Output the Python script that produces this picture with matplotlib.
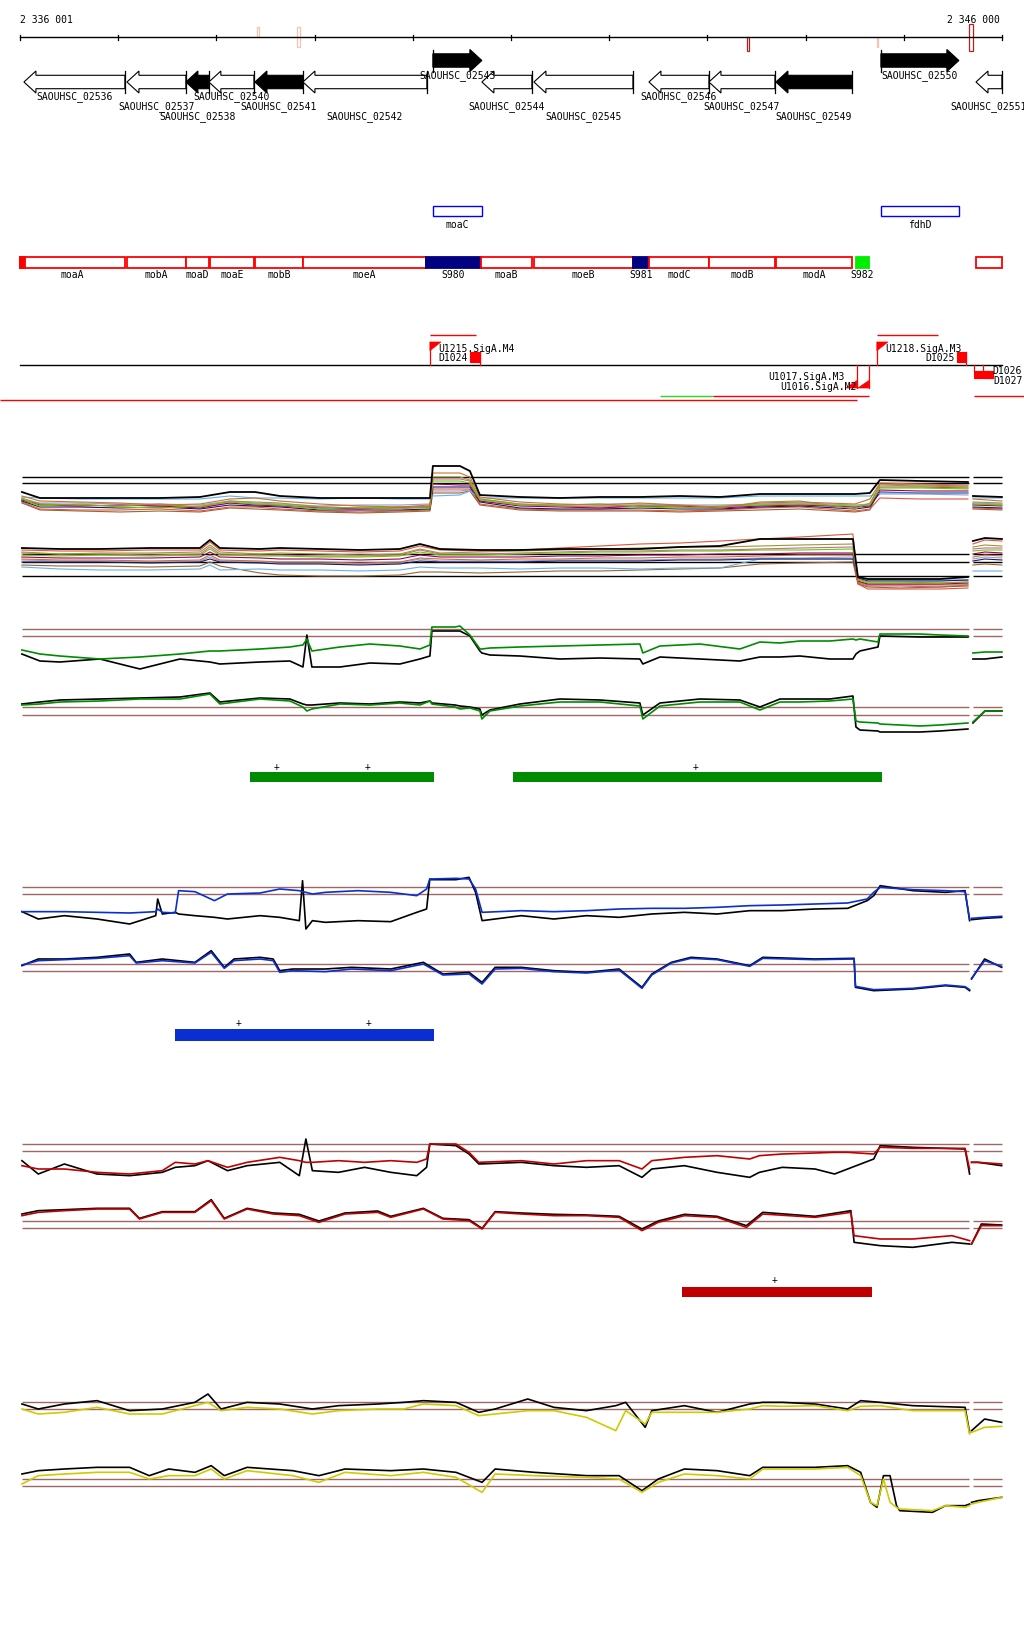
import numpy as np
import matplotlib
matplotlib.use("Agg")
import matplotlib.pyplot as plt
from matplotlib.patches import Polygon, Rectangle

nan = np.nan
G0 = 2336000            # genome offset (bp)
BPX = 9999 / 982        # bp per pixel of the view
XMIN, XMAX = 2335797.4, 2346224.0

# ---------------- ruler ----------------
ruler_ticks = [1, 1001, 2001, 3001, 4001, 5001, 6001, 7001, 8001, 9001, 10000]
ruler_left_label = "2 336 001"
ruler_right_label = "2 346 000"
mark_start = [2410, 2820, 7399, 8723, 9663]
mark_end = [2430, 2851, 7420, 8737, 9704]
mark_color = ['#f2c4b6', '#f2c4b6', '#b22222', '#f2c4b6', '#b22222']
mark_rows = [(28, 38), (28, 48), (38, 52), (38, 48), (25, 52)]

# ---------------- genes ----------------
gene_names = ['SAOUHSC_02536', 'SAOUHSC_02537', 'SAOUHSC_02538', 'SAOUHSC_02540',
              'SAOUHSC_02541', 'SAOUHSC_02542', 'SAOUHSC_02543', 'SAOUHSC_02544',
              'SAOUHSC_02545', 'SAOUHSC_02546', 'SAOUHSC_02547', 'SAOUHSC_02549',
              'SAOUHSC_02550', 'SAOUHSC_02551']
gene_start = [41, 1090, 1690, 1924, 2393, 2882, 4205, 4704, 5234, 6405, 7016, 7698, 8767, 9735]
gene_end = [1069, 1690, 1924, 2383, 2882, 4144, 4704, 5213, 6242, 7016, 7688, 8472, 9561, 9999]
gene_strand = ['-', '-', '-', '-', '-', '-', '+', '-', '-', '-', '-', '-', '+', '-']
gene_filled = [0, 0, 1, 0, 1, 0, 1, 0, 0, 0, 0, 1, 1, 0]
gene_label_row = [1, 2, 3, 1, 2, 3, 0, 2, 3, 1, 2, 3, 0, 2]

# ---------------- blue annotation boxes ----------------
box_names = ['moaC', 'fdhD']
box_start = [4205, 8767]
box_end = [4704, 9561]

# ---------------- operon / sRNA boxes ----------------
op_names = ['moaA', 'mobA', 'moaD', 'moaE', 'mobB', 'moeA', 'S980', 'moaB', 'moeB',
            'S981', 'modC', 'modB', 'modA', 'S982', '']
op_start = [0, 1090, 1690, 1935, 2393, 2882, 4134, 4694, 5234, 6242, 6405, 7016, 7698, 8513, 9735]
op_end = [1074, 1690, 1924, 2383, 2882, 4134, 4694, 5213, 6242, 6405, 7016, 7688, 8472, 8645, 9999]
op_kind = ['op', 'op', 'op', 'op', 'op', 'op', 'srna', 'op', 'op', 'srna', 'op', 'op', 'op', 'new', 'op']
op_fill_start, op_fill_end = [0], [50]

# ---------------- promoters / terminators / transcripts ----------------
prom_names = ['U1215.SigA.M4', 'U1218.SigA.M3', 'U1017.SigA.M3', 'U1016.SigA.M2']
prom_pos = [4175, 8726, 8523, 8645]
prom_strand = ['+', '+', '-', '-']
prom_label_dy = [0, 0, -5.5, 4.5]
term_names = ['D1024', 'D1025', 'D1026', 'D1027']
term_start = [4582, 9541, 9714, 9806]
term_end = [4684, 9632, 9900, 9908]
term_strand = ['+', '+', '-', '-']
term_label_dy = [0, 0, -4.5, 5]
tr_start = [4175, 8726, -204, 6517, 7056, 9714]
tr_end = [4643, 9347, 8523, 7056, 8645, 10224]
tr_row = [336, 336, 401, 397, 397, 397]
tr_color = ['#ff0000', '#ff0000', '#ff0000', '#22dd22', '#ff0000', '#ff0000']

# ---------------- track 1 : many conditions ----------------
t1_top_x = [20, 204, 611, 1018, 1425, 1833, 2138, 2393, 2647, 3055, 3462, 3869, 4175, 4205, 4480,
            4582, 4684, 5091, 5498, 5906, 6313, 6720, 7128, 7535, 7942, 8502, 8655, 8757, 9164,
            9653, 9673, 9704, 9999]
t1_top_colors = ['#000000', '#c87137', '#999933', '#66cc00', '#990066', '#66b2e6', '#1a1a66',
                 '#e0553a', '#9999cc', '#996633', '#cc6699']
t1_top = [
    [493,499,499,499,499,498,493,493,497,499, 499,499,499,467,467,472,496,498,499,498, 498,497,498,495,495,495,494,481,482,483, nan,497,498],
    [497,502,503,504,506,505,500,499,502,505, 507,508,506,474,474,478,498,503,505,506, 504,506,508,504,503,505,500,484,485,486, nan,500,502],
    [499,505,506,507,505,508,502,503,504,508, 509,510,507,478,478,481,500,505,507,507, 506,508,509,503,502,510,504,486,487,488, nan,503,504],
    [500,507,505,508,509,507,503,505,506,510, 508,509,509,482,482,484,501,506,506,505, 508,509,507,506,505,507,506,489,489,490, nan,505,506],
    [501,506,507,506,507,509,504,506,507,509, 510,508,508,485,486,486,502,507,508,509, 507,507,509,507,506,508,507,491,492,492, nan,506,507],
    [498,499,500,500,500,500,497,499,499,500, 499,500,500,497,496,492,499,499,499,499, 499,499,499,497,497,497,497,494,494,494, nan,499,499],
    [502,508,508,509,508,510,506,507,508,511, 511,511,510,488,488,488,503,509,510,510, 509,510,510,508,507,510,508,493,494,494, nan,508,509],
    [503,510,511,511,510,512,508,508,510,512, 513,512,511,490,490,490,505,510,511,511, 511,512,511,509,508,512,510,499,500,500, nan,509,510],
    [500,504,504,505,505,506,502,504,505,507, 506,506,505,492,492,491,500,505,506,505, 505,506,506,505,504,506,505,495,495,496, nan,504,505],
    [504,511,512,513,512,513,509,510,511,513, 514,513,512,494,494,492,506,511,512,512, 512,513,512,511,510,513,511,488,488,489, nan,510,511],
    [501,505,506,507,506,508,504,505,506,508, 509,509,508,480,480,482,502,506,507,508, 507,508,508,506,505,508,506,485,486,487, nan,505,506],
]
t1_bot_x = [20, 407, 815, 1324, 1833, 1935, 2036, 2444, 2647, 3055, 3462, 3869, 4073, 4277, 4684,
            5091, 5498, 5906, 6313, 6720, 7128, 7535, 7942, 8482, 8533, 8634, 8960, 9368, 9653,
            9673, 9704, 9826, 9999]
t1_bot_colors = ['#000000', '#e0553a', '#999933', '#66cc00', '#990066', '#c87137', '#1a1a66',
                 '#66b2e6', '#996633', '#cc6699', '#9999cc']
t1_bot = [
    [549,550,550,549,549,541,549,550,549,550, 551,550,545,550,551,551,550,550,550,548, 547,540,540,540,578,580,580,580,578,nan, 542,539,540],
    [551,552,552,551,551,543,551,552,551,552, 553,552,547,551,552,551,549,547,545,544, 542,540,538,535,585,590,590,590,589,nan, 545,541,542],
    [553,555,554,554,553,546,553,555,554,555, 556,555,550,554,553,552,551,550,549,548, 548,547,546,545,580,583,583,584,583,nan, 548,546,547],
    [556,557,556,557,556,550,556,557,557,558, 558,557,553,556,556,555,554,553,553,552, 552,551,551,550,581,584,584,584,583,nan, 552,551,551],
    [558,559,559,559,558,553,558,559,560,560, 561,560,556,558,558,558,557,557,556,556, 555,555,554,554,582,585,585,585,584,nan, 555,553,554],
    [560,561,561,562,561,556,561,562,563,563, 564,563,559,560,561,560,560,559,559,558, 558,557,556,556,583,586,586,586,586,nan, 558,556,557],
    [563,563,563,564,563,560,563,564,565,565, 566,565,562,563,563,563,562,562,562,561, 561,560,560,560,579,582,582,582,581,nan, 562,560,561],
    [568,570,571,571,570,566,571,570,571,571, 572,571,568,569,569,570,569,569,570,569, 569,560,560,560,580,581,581,581,581,nan, 572,572,572],
    [566,567,567,568,567,563,567,574,576,577, 577,576,573,573,574,573,572,572,571,570, 569,565,564,563,585,588,589,588,587,nan, 566,565,566],
    [554,555,555,556,555,548,555,556,556,557, 557,556,551,555,555,554,553,552,552,551, 551,550,549,548,584,587,587,588,586,nan, 550,549,549],
    [561,562,562,563,562,558,562,563,564,564, 565,564,560,562,562,562,561,561,561,560, 560,559,559,558,583,585,585,585,585,nan, 560,558,559],
]
t1_top_refs = [478, 484]
t1_bot_refs = [555, 563, 577]

# ---------------- track 2 : green condition ----------------
g_x = [20, 204, 407, 815, 1222, 1629, 1935, 2036, 2444, 2749, 2882, 2922, 2973, 3258, 3564, 3869,
       4073, 4175, 4195, 4430, 4480, 4582, 4684, 4704, 4786, 5091, 5498, 5906, 6313, 6343, 6517,
       6924, 7331, 7535, 7739, 7942, 8248, 8482, 8513, 8553, 8737, 8757, 9164, 9368, 9653, 9673,
       9704, 9826, 9999]
g_top_col = [651,655,657,660,658,655,652,652,650,648, 646,640,652,648,645,647,650,646,628,628,
             627,636,650,650,649,648,647,646,645,654, 647,645,650,643,644,642,642,640,641,640,
             643,635,635,636,637,nan,654,653,653]
g_top_blk = [655,662,663,660,670,660,663,665,663,662, 668,636,668,668,664,665,660,657,632,632,
             632,637,652,654,656,657,660,659,660,665, 658,660,662,658,658,657,660,660,655,652,
             648,637,638,638,638,nan,660,660,658]
g_bot_col = [706,705,703,702,700,700,695,705,700,702, 708,712,710,705,706,704,706,702,705,708,
             710,709,712,720,712,707,703,703,707,720, 707,703,703,711,703,703,702,700,722,723,
             724,725,727,726,724,nan,723,712,712]
g_bot_blk = [705,703,701,700,699,698,694,703,699,700, 705,706,706,704,705,703,704,702,704,706,
             707,708,710,716,711,705,700,701,704,716, 704,700,701,708,700,700,700,697,728,731,
             732,733,733,732,730,nan,724,712,712]
g_refs = [630, 637, 708, 716]
g_bar_start, g_bar_end = [2342, 5020], [4216, 8777]
g_plus = [2617, 3543, 6883]

# ---------------- track 3 : blue condition ----------------
b_top_x = [21, 187, 453, 785, 1117, 1383, 1403, 1450, 1582, 1616, 1782, 1981, 2114, 2446, 2646,
           2845, 2878, 2912, 2978, 3111, 3443, 3776, 4041, 4141, 4174, 4188, 4440, 4573, 4640,
           4706, 5105, 5437, 5769, 6101, 6434, 6766, 7099, 7431, 7763, 8096, 8428, 8627, 8694,
           8760, 9092, 9424, 9624, 9670, 9680, 9690, 9823, 9996]
b_top_col = [158,158,158,160,162,158,150,160,162,95, 98,125,105,102,90,95,98,100,105,100,
             95,100,110,90,60,60,58,60,90,160, 155,158,155,150,148,148,145,140,138,135,
             132,120,100,85,92,95,98,180,nan,178, 175,172]
b_top_blk = [158,180,170,180,195,170,120,165,160,165, 170,175,180,170,175,185,65,210,185,190,
             185,188,160,150,60,62,62,55,100,185, 170,180,170,175,165,160,165,155,155,150,
             148,125,110,80,95,100,95,185,nan,182, 178,175]
b_bot_x = [21, 187, 453, 785, 1117, 1184, 1450, 1782, 1948, 2081, 2181, 2446, 2579, 2646, 2779,
           3111, 3377, 3776, 4108, 4307, 4573, 4706, 4839, 5105, 5437, 5769, 6101, 6334, 6434,
           6633, 6833, 7099, 7431, 7564, 8096, 8494, 8508, 8694, 9092, 9424, 9624, 9670, 9680,
           9690, 9823, 9996]
b_bot_blk = [320,300,300,295,285,310,300,310,275,325, 300,295,300,335,330,330,325,330,310,345,
             340,370,325,325,335,340,330,385,345,310, 295,300,320,295,300,298,385,395,390,380,
             385,395,nan,360,300,325]
b_bot_col = [318,305,302,298,290,312,305,312,280,328, 305,300,305,340,335,338,330,335,315,348,
             345,375,330,328,338,342,333,388,348,312, 298,302,322,298,302,300,382,392,388,378,
             383,392,nan,358,305,322]
b_refs = [85, 105, 316, 337]
b_bar_start, b_bar_end = [1578], [4216]
b_plus = [2227, 3550]

# ---------------- track 4 : red condition ----------------
r_top_x = [21, 187, 453, 785, 1117, 1450, 1582, 1782, 1915, 2114, 2314, 2646, 2845, 2912, 2978,
           3244, 3510, 3776, 4041, 4141, 4174, 4440, 4573, 4673, 5105, 5437, 5769, 6101, 6334,
           6434, 6766, 7099, 7431, 7530, 7763, 8096, 8295, 8428, 8694, 8760, 9092, 9624, 9670,
           9680, 9690, 9757, 9996]
r_top_col = [110,120,120,130,135,125,100,105,95,115, 100,85,95,100,100,95,100,95,100,90,
             45,45,70,100,95,105,95,95,120,95, 85,80,90,80,75,72,70,70,75,55,
             58,58,120,nan,100,100,105]
r_top_blk = [95,135,105,135,140,130,115,110,95,125, 110,100,140,30,125,130,115,130,140,115,
             45,50,75,105,100,110,115,110,145,120, 110,130,145,130,115,120,135,120,90,50,
             55,60,135,nan,100,100,110]
r_bot_x = [21, 187, 453, 785, 1117, 1217, 1450, 1782, 1948, 2081, 2314, 2579, 2845, 3045, 3310,
           3643, 3776, 4108, 4307, 4573, 4706, 4839, 5105, 5437, 5769, 6101, 6334, 6500, 6766,
           7099, 7398, 7564, 8096, 8461, 8494, 8760, 9092, 9491, 9670, 9680, 9690, 9790, 9996]
r_bot_col = [260,250,245,240,240,270,250,250,215,270, 240,255,260,280,255,250,265,240,270,275,
             300,250,255,260,260,265,305,280,260,265, 295,255,265,250,320,330,330,320,335,nan,
             345,290,290]
r_bot_blk = [255,245,242,238,238,268,248,248,212,268, 238,252,256,276,252,246,262,238,268,272,
             298,248,252,256,258,262,300,276,256,262, 290,250,262,245,340,350,355,340,345,nan,
             345,285,288]
r_refs = [45, 67, 277, 297]
r_bar_start, r_bar_end = [6741], [8675]
r_plus = [7683]

# ---------------- track 5 : yellow condition ----------------
y_top_x = [21, 187, 453, 785, 1117, 1450, 1782, 1915, 2048, 2314, 2646, 2978, 3244, 3643, 3909,
           4108, 4440, 4673, 4839, 5171, 5437, 5769, 6068, 6168, 6367, 6434, 6766, 7099, 7431,
           7564, 7763, 8096, 8428, 8561, 8760, 9092, 9624, 9670, 9680, 9690, 9823, 9996]
y_top_col = [120,135,130,115,135,135,110,100,125,115, 120,135,125,120,120,105,110,140,135,125,
             125,145,185,125,165,130,130,130,120,110, 112,110,125,112,110,125,125,195,nan,190,
             175,172]
y_top_blk = [105,120,105,95,125,120,100,75,120,100, 105,120,110,105,100,95,100,130,120,90,
             115,125,110,100,175,125,110,130,105,100, 100,105,120,95,100,110,115,190,nan,185,
             150,160]
y_bot_x = [21, 187, 453, 785, 1117, 1317, 1516, 1782, 1948, 2081, 2314, 2779, 3045, 3310, 3776,
           4108, 4440, 4706, 4839, 5238, 5769, 6101, 6334, 6500, 6766, 7099, 7431, 7564, 8096,
           8428, 8561, 8661, 8727, 8793, 8860, 8926, 8959, 9292, 9424, 9624, 9670, 9680, 9690,
           9757, 9996]
y_bot_col = [345,320,315,310,310,330,320,320,300,330, 305,320,340,310,320,310,325,370,315,320,
             325,330,370,340,315,320,330,300,300,295, 320,400,410,330,400,415,420,425,410,415,
             410,nan,405,400,385]
y_bot_blk = [315,305,300,295,295,320,300,310,290,320, 295,305,320,300,305,300,310,340,300,310,
             320,320,365,330,300,305,320,295,295,290, 310,400,415,320,320,410,425,430,410,410,
             405,nan,400,395,385]
y_refs = [100, 121, 330, 352]

# ======================================================================
W, H = 1024, 1640
fig = plt.figure(figsize=(W / 100, H / 100), dpi=100)
fig.patch.set_facecolor('white')
MONO = 'DejaVu Sans Mono'
FS = 7
BROWN = '#a06666'


def add_axes(top, bottom, ylim):
    ax = fig.add_axes([0, 1 - bottom / H, 1, (bottom - top) / H])
    ax.set_xlim(XMIN, XMAX)
    ax.set_ylim(*ylim)
    ax.axis('off')
    return ax


def gx(a):
    return G0 + np.asarray(a, dtype=float)


def txt(ax, x, y, s, ha='center', **kw):
    ax.text(x, y, s, ha=ha, va='center', fontsize=FS, family=MONO, **kw)


def ref_line(ax, y, color, lw=1.0):
    for lo, hi in [(20, 9668), (9703, 9999)]:
        ax.plot(gx([lo, hi]), [y, y], color=color, lw=lw, solid_capstyle='butt')


# ---------------- annotation area ----------------
ax = add_axes(0, 420, (420, 0))

# ruler
ax.plot(gx([ruler_ticks[0], ruler_ticks[-1]]), [38, 38], color='black', lw=1.0)
for t in ruler_ticks:
    ax.plot(gx([t, t]), [35.5, 40.5], color='black', lw=0.9)
txt(ax, G0 + ruler_ticks[0], 20, ruler_left_label, ha='left')
txt(ax, G0 + 9980, 20, ruler_right_label, ha='right')
for s, e, c, (y0, y1) in zip(mark_start, mark_end, mark_color, mark_rows):
    ax.add_patch(Rectangle((G0 + s, y0), e - s, y1 - y0, facecolor='white', edgecolor=c, lw=0.9))

# genes
head = 12 * BPX
label_y = {0: 76, 1: 97, 2: 107, 3: 117}
for name, s, e, st, f, row in zip(gene_names, gene_start, gene_end, gene_strand, gene_filled, gene_label_row):
    s, e = G0 + s, G0 + e
    yc = 61.5 if st == '+' else 83
    bh, hh = 6.7, 11
    hl = min(head, e - s)
    if st == '+':
        hb = e - hl
        pts = [(s, yc - bh), (hb, yc - bh), (hb, yc - hh), (e, yc), (hb, yc + hh), (hb, yc + bh), (s, yc + bh)]
        bar = s
    else:
        hb = s + hl
        pts = [(e, yc - bh), (hb, yc - bh), (hb, yc - hh), (s, yc), (hb, yc + hh), (hb, yc + bh), (e, yc + bh)]
        bar = e
    ax.add_patch(Polygon(pts, closed=True, facecolor='black' if f else 'white', edgecolor='black', lw=0.8, zorder=3))
    ax.plot([bar, bar], [yc - hh, yc + hh], color='black', lw=0.9, zorder=3)
    txt(ax, (s + e) / 2, label_y[row], name, zorder=5)

# blue boxes
for n, s, e in zip(box_names, box_start, box_end):
    ax.add_patch(Rectangle((G0 + s, 207), e - s, 10, facecolor='white', edgecolor='#0000ff', lw=1.0))
    txt(ax, G0 + (s + e) / 2, 224.5, n)

# operon boxes
for n, s, e, k in zip(op_names, op_start, op_end, op_kind):
    if k == 'srna':
        fc, ec = '#000080', '#000080'
    elif k == 'new':
        fc, ec = '#00ee00', '#00ee00'
    else:
        fc, ec = 'white', '#ff0000'
    ax.add_patch(Rectangle((G0 + s, 258.3), e - s, 10.4, facecolor=fc, edgecolor=ec, lw=1.3))
    if n:
        txt(ax, G0 + (s + e) / 2, 275.5, n)
for s, e in zip(op_fill_start, op_fill_end):
    ax.add_patch(Rectangle((G0 + s, 258.3), e - s, 10.4, facecolor='#ff0000', edgecolor='#ff0000', lw=1.3))

# promoter / terminator track
ax.plot(gx([0, 9999]), [366, 366], color='black', lw=1.0)
for s, e, y, c in zip(tr_start, tr_end, tr_row, tr_color):
    ax.plot(gx([s, e]), [y, y], color=c, lw=1.0, solid_capstyle='butt')
tri = 11 * BPX
for n, p, st, dy in zip(prom_names, prom_pos, prom_strand, prom_label_dy):
    x = G0 + p
    if st == '+':
        ax.plot([x, x], [343, 366], color='#ff0000', lw=0.9)
        ax.add_patch(Polygon([(x, 343), (x + tri, 343), (x, 351.7)], closed=True, facecolor='#ff0000', edgecolor='#ff0000', lw=0.5))
        txt(ax, x + 8 * BPX, 349.5 + dy, n, ha='left')
    else:
        ax.plot([x, x], [366, 389], color='#ff0000', lw=0.9)
        ax.add_patch(Polygon([(x, 389), (x - tri, 389), (x, 381.5)], closed=True, facecolor='#ff0000', edgecolor='#ff0000', lw=0.5))
        txt(ax, x - 12 * BPX, 383 + dy, n, ha='right')
for n, s, e, st, dy in zip(term_names, term_start, term_end, term_strand, term_label_dy):
    if st == '+':
        ax.add_patch(Rectangle((G0 + s, 353.3), e - s, 10, facecolor='#ff0000', edgecolor='#ff0000', lw=0.8))
        ax.plot([G0 + e, G0 + e], [353.3, 366], color='#ff0000', lw=0.9)
        txt(ax, G0 + s - 2 * BPX, 358 + dy, n, ha='right')
    else:
        ax.add_patch(Rectangle((G0 + s, 371.7), e - s, 7.6, facecolor='#ff0000', edgecolor='#ff0000', lw=0.8))
        ax.plot([G0 + s, G0 + s], [366, 372], color='#ff0000', lw=0.9)
        txt(ax, G0 + e, 376 + dy, n, ha='left')

# ---------------- track 1 ----------------
ax1 = add_axes(440, 600, (600, 440))
for y in t1_top_refs + t1_bot_refs:
    ref_line(ax1, y, 'black', lw=1.0)
for vals, c in zip(t1_top[::-1], t1_top_colors[::-1]):
    ax1.plot(gx(t1_top_x), vals, color=c, lw=1.3 if c == '#000000' else 0.8)
for vals, c in zip(t1_bot[::-1], t1_bot_colors[::-1]):
    ax1.plot(gx(t1_bot_x), vals, color=c, lw=1.3 if c == '#000000' else 0.8)


def profile_track(top, bottom, ylim, refs, series, color, bars=None, bar_y=None, plus=None, plus_y=None):
    a = add_axes(top, bottom, ylim)
    for y in refs:
        ref_line(a, y, BROWN, lw=1.0)
    for xs, blk, col in series:
        a.plot(gx(xs), blk, color='black', lw=1.2)
        a.plot(gx(xs), col, color=color, lw=1.2)
    if bars is not None:
        for s, e in zip(*bars):
            a.add_patch(Rectangle((G0 + s, bar_y[0]), e - s, bar_y[1] - bar_y[0], facecolor=color, edgecolor='none'))
        for p in plus:
            txt(a, G0 + p, plus_y, '+')
    return a


GREEN, BLUE, RED, YEL = '#008c00', '#0a2fd0', '#c00000', '#cccc00'
profile_track(600, 800, (800, 600), g_refs,
              [(g_x, g_top_blk, g_top_col), (g_x, g_bot_blk, g_bot_col)], GREEN,
              bars=(g_bar_start, g_bar_end), bar_y=(773.3, 783.3), plus=g_plus, plus_y=767)
profile_track(860, 1050, (570, 0), b_refs,
              [(b_top_x, b_top_blk, b_top_col), (b_bot_x, b_bot_blk, b_bot_col)], BLUE,
              bars=(b_bar_start, b_bar_end), bar_y=(510, 545), plus=b_plus, plus_y=490)
profile_track(1130, 1310, (540, 0), r_refs,
              [(r_top_x, r_top_blk, r_top_col), (r_bot_x, r_bot_blk, r_bot_col)], RED,
              bars=(r_bar_start, r_bar_end), bar_y=(475, 505), plus=r_plus, plus_y=450)
profile_track(1370, 1540, (510, 0), y_refs,
              [(y_top_x, y_top_blk, y_top_col), (y_bot_x, y_bot_blk, y_bot_col)], YEL)

fig.savefig('out.png', dpi=100, facecolor='white')
